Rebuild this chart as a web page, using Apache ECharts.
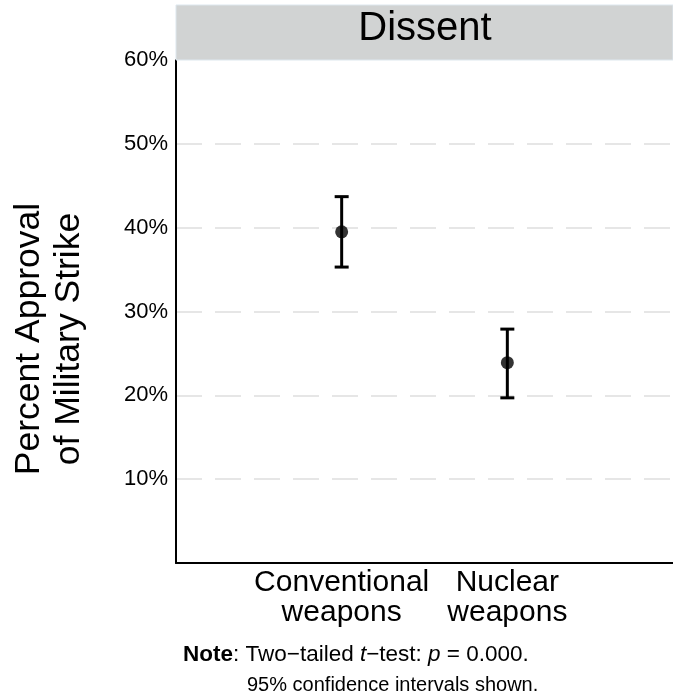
<!DOCTYPE html>
<html><head><meta charset="utf-8">
<script src="https://cdn.jsdelivr.net/npm/echarts@6/dist/echarts.min.js"></script>
<style>html,body{margin:0;padding:0;background:#fff}#c{width:673px;height:698px}</style>
</head><body><div id="c"></div>
<script>
const categories = ['Conventional\nweapons', 'Nuclear\nweapons'];
const positions = [1, 2];
const means = [39.5, 23.9];
const lower = [35.3, 19.7];
const upper = [43.7, 27.9];
const yTicks = [10, 20, 30, 40, 50, 60];

const font = '"Liberation Sans", Arial, Helvetica, sans-serif';
const chart = echarts.init(document.getElementById('c'));
chart.setOption({
  animation: false,
  textStyle: { fontFamily: font },
  grid: { left: 176, right: 0, top: 60, bottom: 135 },
  xAxis: {
    type: 'value', min: 0, max: 3,
    axisLine: { show: true, onZero: false, lineStyle: { color: '#000', width: 2 } },
    axisTick: { show: false },
    splitLine: { show: false },
    axisLabel: {
      customValues: positions,
      formatter: v => categories[positions.indexOf(v)] || '',
      color: '#000', fontSize: 30, lineHeight: 30, margin: 5, fontFamily: font
    }
  },
  yAxis: {
    type: 'value', min: 0, max: 60, interval: 10,
    axisLine: { show: true, lineStyle: { color: '#000', width: 2 } },
    axisTick: { show: false },
    splitLine: { show: true, showMinLine: false, showMaxLine: false, lineStyle: { color: '#dedede', width: 1.5, type: [26, 13] } },
    axisLabel: {
      formatter: v => yTicks.includes(v) ? v + '%' : '',
      color: '#000', fontSize: 22, margin: 8, fontFamily: font
    }
  },
  graphic: [
    { type: 'rect', shape: { x: 176, y: 5, width: 497, height: 55 }, style: { fill: '#d1d3d3', stroke: '#dde7ee', lineWidth: 1 }, z: 10 },
    { type: 'text', x: 425, y: 29, style: { text: 'Dissent', fill: '#000', font: '40px ' + font, textAlign: 'center', textVerticalAlign: 'middle' }, z: 11 },
    { type: 'text', x: 49, y: 339, rotation: Math.PI / 2, style: { text: 'Percent Approval\nof Military Strike', fill: '#000', font: '35.5px ' + font, textAlign: 'center', textVerticalAlign: 'middle', lineHeight: 40 } },
    { type: 'text', x: 183, y: 655, style: {
        text: '{b|Note}: Two−tailed {i|t}−test: {i|p} = 0.000.',
        textAlign: 'left', textVerticalAlign: 'middle', fill: '#000', font: '22.5px ' + font,
        rich: { b: { fontWeight: 'bold', fontSize: 22.5, fontFamily: font, fill: '#000' }, i: { fontStyle: 'italic', fontSize: 22.5, fontFamily: font, fill: '#000' } }
      } },
    { type: 'text', x: 247, y: 685, style: {
        text: '95% confidence intervals shown.',
        textAlign: 'left', textVerticalAlign: 'middle', fill: '#000', font: '20px ' + font
      } }
  ],
  series: [
    {
      type: 'custom',
      data: positions.map((p, i) => [p, lower[i], upper[i]]),
      renderItem: (params, api) => {
        const x = api.value(0);
        const lo = api.coord([x, api.value(1)]);
        const hi = api.coord([x, api.value(2)]);
        const w = 7;
        const st = { stroke: '#000', lineWidth: 3 };
        return { type: 'group', children: [
          { type: 'line', shape: { x1: lo[0], y1: lo[1], x2: hi[0], y2: hi[1] }, style: st },
          { type: 'line', shape: { x1: lo[0] - w, y1: lo[1], x2: lo[0] + w, y2: lo[1] }, style: st },
          { type: 'line', shape: { x1: hi[0] - w, y1: hi[1], x2: hi[0] + w, y2: hi[1] }, style: st }
        ] };
      },
      z: 3
    },
    {
      type: 'scatter',
      data: positions.map((p, i) => [p, means[i]]),
      symbol: 'circle', symbolSize: 13,
      itemStyle: { color: '#000' },
      z: 4
    }
  ]
});
</script></body></html>
